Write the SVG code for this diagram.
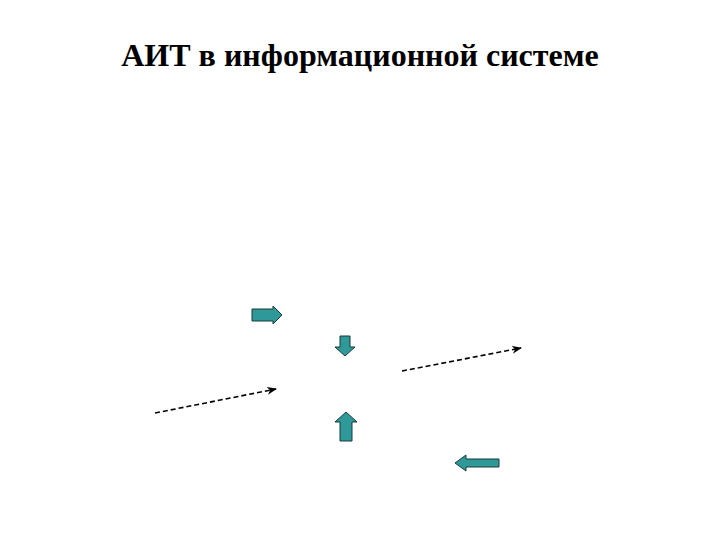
<svg xmlns="http://www.w3.org/2000/svg" width="720" height="540" viewBox="0 0 720 540">
<defs>
<style>
.t{font-family:"Liberation Serif","Times New Roman",serif;font-weight:bold;font-size:32px;fill:#000}
.blk{fill:#2f9898;stroke:#1a3b3b;stroke-width:1}
.dash{fill:none;stroke:#000;stroke-width:1.6;stroke-dasharray:5,3}
</style>
<marker id="ah" markerWidth="10" markerHeight="8" refX="9" refY="4" orient="auto" markerUnits="userSpaceOnUse">
<path d="M0,0 L10,4 L0,8 L3,4 Z" fill="#000"/>
</marker>
</defs>
<rect width="720" height="540" fill="#fff"/>
<g id="title"><text class="t" x="360" y="66" text-anchor="middle">АИТ в информационной системе</text></g>
<g id="arrow-right"><path class="blk" d="M252,309 L273,309 L273,306 L282,315 L273,324 L273,321 L252,321 Z"/></g>
<g id="arrow-down"><path class="blk" d="M340,336 L350,336 L350,347 L355,347 L345,356 L335,347 L340,347 Z"/></g>
<g id="arrow-up"><path class="blk" d="M340,441 L352,441 L352,422 L357,422 L346,412 L335,422 L340,422 Z"/></g>
<g id="arrow-left"><path class="blk" d="M499,459 L466,459 L466,455 L455,463 L466,471 L466,467 L499,467 Z"/></g>
<g id="connectors">
<path class="dash" d="M155,413 L276,389" marker-end="url(#ah)"/>
<path class="dash" d="M402,371 L521,348" marker-end="url(#ah)"/>
</g>
</svg>
